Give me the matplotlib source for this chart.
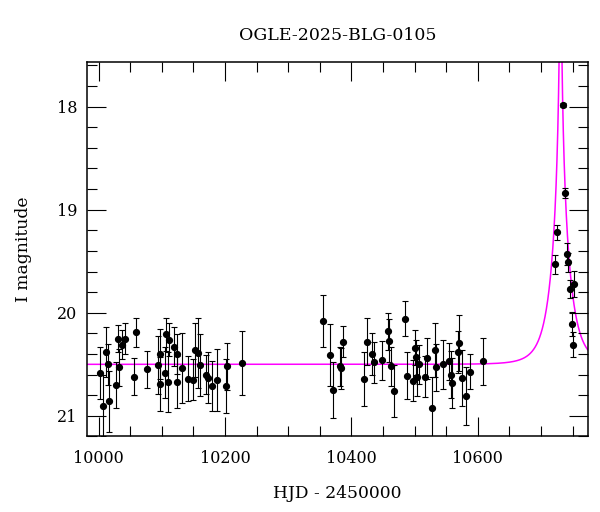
import matplotlib
matplotlib.use("Agg")
import matplotlib.pyplot as plt
import numpy as np
from matplotlib.ticker import MultipleLocator

# photometry: HJD - 2450000, I mag, error
hjd = [10002.5, 10006.8, 10011.0, 10014.0, 10016.0, 10027.8, 10030.5, 10032.6,
       10037.3, 10042.0, 10056.3, 10058.9, 10076.3, 10094.2, 10096.3, 10097.4,
       10105.3, 10106.9, 10110.0, 10111.1, 10120.0, 10123.8, 10124.3, 10131.7,
       10141.2, 10149.0, 10153.2, 10157.0, 10160.6, 10169.6, 10173.8, 10179.1,
       10188.0, 10201.2, 10202.8, 10227.0,
       10354.6, 10365.7, 10371.4, 10381.5, 10384.0, 10387.2, 10420.4, 10425.2,
       10432.0, 10435.3, 10449.0, 10458.0, 10460.0, 10463.1, 10467.9, 10485.3,
       10487.4, 10497.9, 10500.1, 10502.2, 10504.3, 10507.4, 10516.9, 10519.1,
       10528.0, 10531.7, 10533.8, 10544.3, 10554.8, 10557.5, 10559.6, 10568.5,
       10570.6, 10575.4, 10580.7, 10587.0, 10608.6,
       10722.4, 10726.1, 10734.7, 10737.8, 10741.4, 10743.6, 10746.1, 10748.8,
       10750.9, 10753.1]
mag = [20.585, 20.90, 20.38, 20.50, 20.86, 20.70, 20.25, 20.53,
       20.31, 20.25, 20.62, 20.19, 20.55, 20.51, 20.69, 20.40,
       20.58, 20.21, 20.67, 20.26, 20.33, 20.67, 20.40, 20.54,
       20.64, 20.65, 20.36, 20.39, 20.51, 20.60, 20.63, 20.71,
       20.65, 20.71, 20.52, 20.49,
       20.08, 20.41, 20.75, 20.52, 20.54, 20.28, 20.64, 20.28,
       20.40, 20.48, 20.46, 20.18, 20.27, 20.52, 20.76, 20.06,
       20.61, 20.66, 20.34, 20.43, 20.62, 20.50, 20.62, 20.44,
       20.92, 20.36, 20.53, 20.50, 20.47, 20.60, 20.68, 20.38,
       20.29, 20.63, 20.81, 20.57, 20.47,
       19.53, 19.22, 17.98, 18.84, 19.43, 19.51, 19.77, 20.11,
       20.31, 19.72]
err = [0.25, 0.30, 0.24, 0.20, 0.30, 0.22, 0.13, 0.18,
       0.14, 0.15, 0.18, 0.14, 0.18, 0.28, 0.26, 0.24,
       0.25, 0.16, 0.29, 0.16, 0.19, 0.25, 0.19, 0.34,
       0.22, 0.20, 0.26, 0.34, 0.30, 0.19, 0.25, 0.24,
       0.30, 0.26, 0.23, 0.31,
       0.25, 0.30, 0.27, 0.19, 0.20, 0.15, 0.26, 0.23,
       0.20, 0.20, 0.19, 0.18, 0.21, 0.19, 0.25, 0.17,
       0.23, 0.20, 0.17, 0.17, 0.19, 0.19, 0.20, 0.20,
       0.30, 0.26, 0.23, 0.24, 0.18, 0.23, 0.24, 0.20,
       0.27, 0.27, 0.28, 0.17, 0.23,
       0.09, 0.07, 0.02, 0.05, 0.11, 0.09, 0.09, 0.12,
       0.12, 0.13]

# PSPL model parameters
t0, tE, u0, fs, I0 = 10731.0, 25.0, 0.03, 1.5, 20.50

t = np.linspace(9982, 10774, 4000)
u = np.sqrt(u0**2 + ((t - t0) / tE)**2)
A = (u**2 + 2) / (u * np.sqrt(u**2 + 4))
model = I0 - 2.5 * np.log10(fs * A + 1 - fs)

plt.rcParams['font.family'] = 'DejaVu Serif'

fig = plt.figure(figsize=(6, 5.12), dpi=100)
ax = fig.add_axes([0.1455, 0.1475, 0.834, 0.7308])

ax.plot(t, model, color='#ff00ff', linewidth=1.1, zorder=1)
ax.errorbar(hjd, mag, yerr=err, fmt='o', color='black', markersize=4.2,
            elinewidth=0.8, capsize=2.5, capthick=0.8, zorder=2)

ax.set_xlim(9982, 10774)
ax.set_ylim(21.2, 17.57)
ax.xaxis.set_major_locator(MultipleLocator(200))
ax.xaxis.set_minor_locator(MultipleLocator(50))
ax.yaxis.set_major_locator(MultipleLocator(1))
ax.yaxis.set_minor_locator(MultipleLocator(0.2))
ax.tick_params(which='both', direction='in', top=True, right=True, labelsize=11.5)
ax.tick_params(which='major', length=13.5, width=0.8)
ax.tick_params(which='minor', length=7, width=0.8)
ax.tick_params(axis='x', which='major', pad=10)
ax.tick_params(axis='y', which='major', pad=7)
for s in ax.spines.values():
    s.set_linewidth(1.1)

ax.set_xlabel('HJD - 2450000', fontsize=12.3, labelpad=13)
ax.set_ylabel('I magnitude', fontsize=12.3, labelpad=18)
ax.set_title('OGLE-2025-BLG-0105', fontsize=12.5, pad=16)

fig.savefig('out.png', dpi=100)
